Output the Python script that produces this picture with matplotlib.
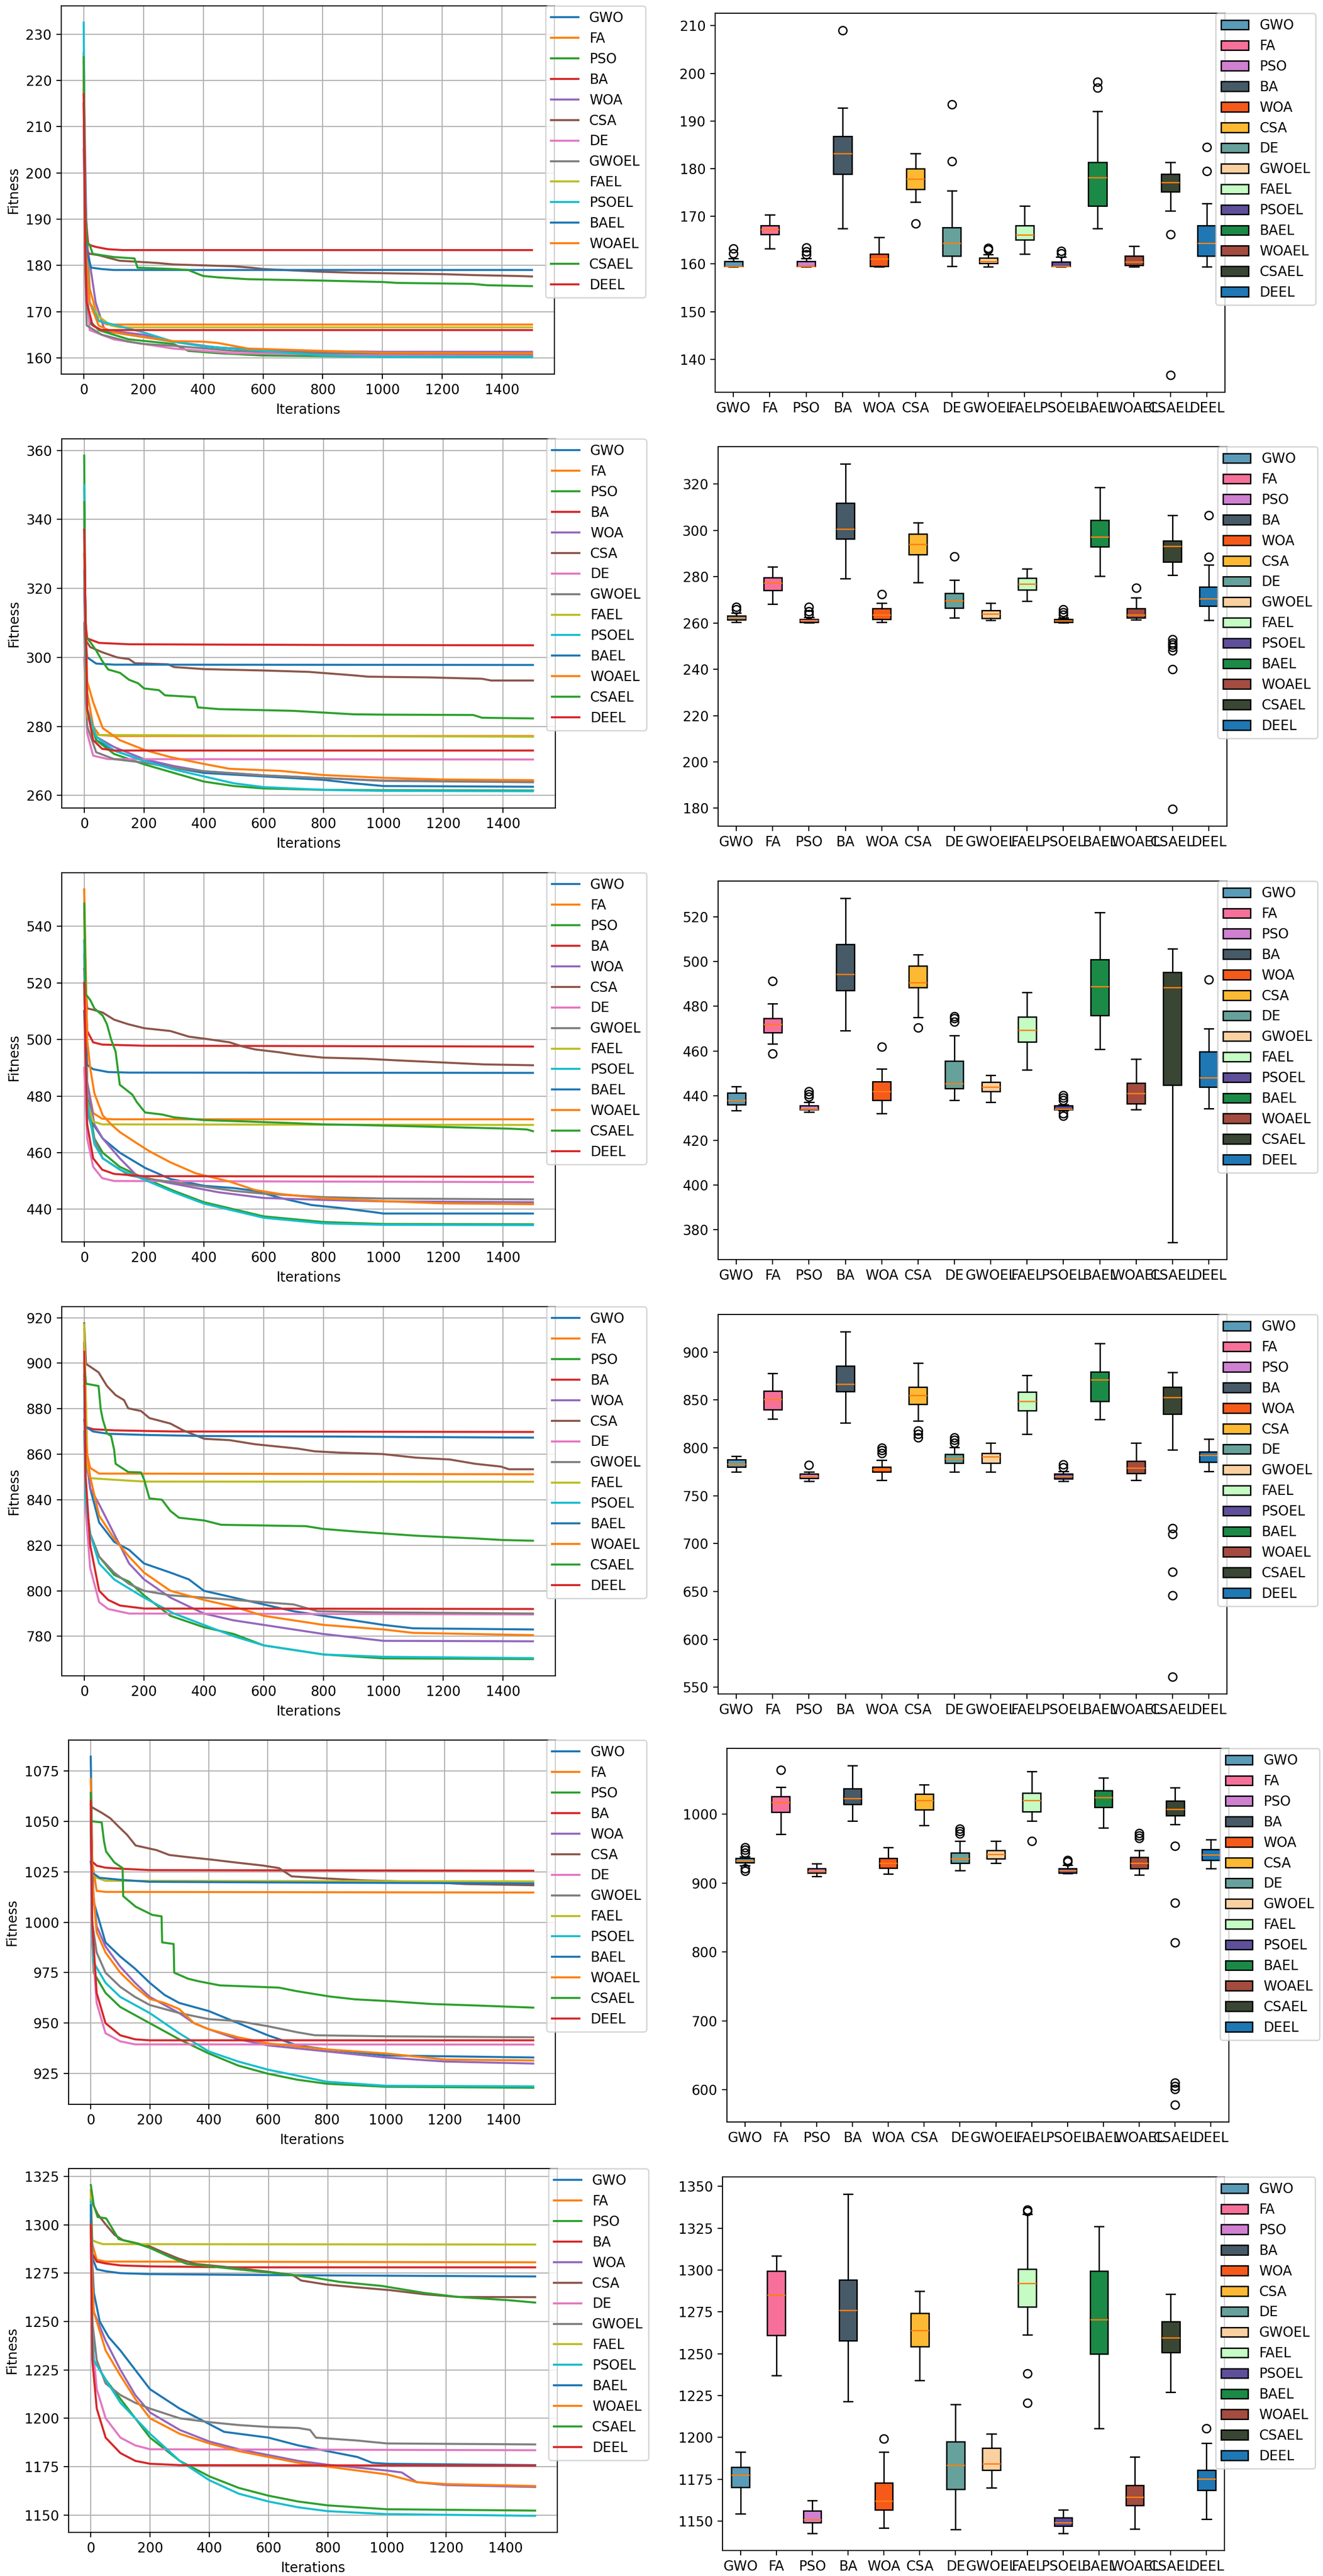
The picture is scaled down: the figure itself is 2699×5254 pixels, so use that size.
import matplotlib.pyplot as plt
from matplotlib.ticker import MultipleLocator

NAMES = ['GWO', 'FA', 'PSO', 'BA', 'WOA', 'CSA', 'DE',
         'GWOEL', 'FAEL', 'PSOEL', 'BAEL', 'WOAEL', 'CSAEL', 'DEEL']
LINE_COLORS = ['C0', 'C1', 'C2', 'C3', 'C4', 'C5', 'C6',
               'C7', 'C8', 'C9', 'C0', 'C1', 'C2', 'C3']
BOX_COLORS = ['#5a9bb8', '#f7709a', '#cf80d0', '#475a68', '#f55a1b', '#fdb933', '#66a19b',
              '#fbd0a0', '#c4fcc4', '#5f4f9b', '#1b8a47', '#a44c40', '#3a4634', '#1f77b4']

# ---------------- convergence curves (iteration, fitness) ----------------
F1_CURVES = {
    'GWO': [(0, 221), (5, 190), (10, 175), (20, 167.5), (50, 166.2), (100, 165.5), (250, 164), (400, 162.5), (600, 161.5), (900, 160.8), (1200, 160.6), (1500, 160.5)],
    'FA': [(0, 224), (5, 195), (20, 175), (50, 168), (80, 167.2), (1500, 167.2)],
    'PSO': [(0, 226), (5, 188), (10, 172), (20, 168), (50, 166), (150, 164), (300, 163), (350, 161.5), (450, 161), (600, 160.5), (900, 160.3), (1500, 160.2)],
    'BA': [(0, 218), (5, 192), (15, 184.5), (40, 184), (80, 183.5), (130, 183.3), (1500, 183.3)],
    'WOA': [(0, 222), (10, 185), (40, 172), (70, 166), (200, 165), (300, 163.5), (450, 162.2), (700, 161.5), (1000, 161.3), (1500, 161.3)],
    'CSA': [(0, 205), (10, 183), (20, 182.5), (50, 182.2), (120, 181), (200, 180.7), (250, 180.5), (300, 180.2), (400, 180), (500, 179.8), (560, 179.5), (600, 179.2), (700, 178.9), (800, 178.6), (900, 178.4), (1000, 178.3), (1200, 178.1), (1300, 177.9), (1450, 177.7), (1500, 177.6)],
    'DE': [(0, 210), (5, 180), (20, 166), (100, 164), (300, 162), (500, 161), (800, 160.7), (1500, 160.6)],
    'GWOEL': [(0, 215), (5, 180), (10, 167), (60, 165), (150, 163.5), (200, 163), (300, 162.6), (500, 161.5), (800, 161), (1500, 160.8)],
    'FAEL': [(0, 220), (5, 185), (20, 172), (50, 169), (90, 167), (120, 166.6), (1500, 166.6)],
    'PSOEL': [(0, 232.5), (5, 190), (20, 172), (50, 168), (200, 165.5), (300, 163.5), (400, 162.5), (600, 161.5), (800, 160.5), (1000, 160.2), (1500, 160.1)],
    'BAEL': [(0, 215), (5, 190), (10, 183), (25, 179.5), (60, 179.2), (100, 179), (1500, 179)],
    'WOAEL': [(0, 220), (5, 185), (20, 172), (50, 167), (100, 165.5), (200, 164.5), (300, 163.6), (400, 163.5), (450, 163.2), (550, 162), (800, 161.5), (1000, 161.1), (1500, 161.0)],
    'CSAEL': [(0, 225), (5, 192), (10, 185), (20, 184.5), (30, 182.5), (80, 182), (100, 181.8), (170, 181.5), (180, 179.5), (300, 179.2), (350, 179), (380, 178.2), (400, 177.7), (450, 177.4), (550, 177), (800, 176.7), (1000, 176.4), (1050, 176.2), (1300, 176), (1350, 175.7), (1500, 175.5)],
    'DEEL': [(0, 217), (5, 185), (10, 172), (30, 167), (60, 166), (1500, 166)],
}

F2_CURVES = {
    'GWO': [(0, 325), (5, 300), (10, 285), (40, 276), (100, 273), (200, 270), (300, 268), (400, 266.5), (600, 265.5), (800, 264.5), (900, 263.5), (1000, 262.7), (1500, 262.5)],
    'FA': [(0, 349), (5, 305), (10, 290), (30, 280), (50, 277.5), (100, 277.2), (1500, 277.2)],
    'PSO': [(0, 358.5), (5, 300), (10, 285), (40, 276), (100, 272), (200, 269), (300, 266.5), (400, 264), (500, 262.7), (600, 262), (800, 261.6), (1000, 261.5), (1500, 261.4)],
    'BA': [(0, 337), (5, 310), (10, 305.5), (50, 304.2), (150, 303.8), (800, 303.6), (1500, 303.5)],
    'WOA': [(0, 320), (5, 295), (10, 285), (40, 277), (100, 274), (200, 270.5), (300, 268.5), (400, 267), (600, 265.8), (800, 265), (1000, 264.3), (1500, 264.0)],
    'CSA': [(0, 340), (5, 305), (20, 303), (60, 301.5), (110, 300), (150, 299.5), (170, 298.3), (280, 298), (300, 297.2), (400, 296.6), (600, 296.2), (750, 295.8), (900, 294.8), (950, 294.4), (1150, 294.2), (1330, 293.8), (1360, 293.3), (1500, 293.3)],
    'DE': [(0, 300), (10, 278), (30, 271.5), (80, 270.5), (1500, 270.4)],
    'GWOEL': [(0, 310), (5, 290), (10, 280), (40, 272.5), (100, 270.5), (200, 269.5), (300, 268), (400, 267), (600, 265.8), (800, 265), (1000, 264.2), (1500, 263.8)],
    'FAEL': [(0, 335), (5, 295), (10, 283), (40, 277.5), (1500, 277.0)],
    'PSOEL': [(0, 350), (5, 300), (10, 285), (40, 277), (100, 273), (200, 270), (300, 267.5), (400, 265.5), (500, 263.5), (600, 262.4), (800, 261.6), (1000, 261.3), (1500, 261.2)],
    'BAEL': [(0, 330), (5, 305), (10, 300), (40, 298.2), (100, 297.9), (1500, 297.8)],
    'WOAEL': [(0, 330), (10, 293), (30, 287), (62, 279.5), (119, 276), (204, 273.1), (288, 271.1), (401, 269.1), (486, 267.7), (656, 267.1), (798, 265.9), (996, 265.1), (1200, 264.6), (1500, 264.4)],
    'CSAEL': [(0, 345), (5, 306), (20, 304.5), (40, 302), (60, 299), (80, 296.5), (120, 295.5), (150, 293.5), (180, 292.5), (200, 291), (250, 290.5), (270, 289), (370, 288.5), (380, 285.5), (450, 285), (700, 284.5), (800, 284), (900, 283.5), (1000, 283.4), (1300, 283.3), (1330, 282.5), (1500, 282.3)],
    'DEEL': [(0, 337), (10, 285), (30, 276), (60, 273.5), (100, 273), (1500, 273)],
}

F3_CURVES = {
    'GWO': [(0, 520), (10, 480), (30, 470), (62, 465), (119, 460), (204, 454.6), (288, 450.7), (401, 448.3), (500, 447.5), (571, 446.5), (656, 444), (760, 441.5), (854, 440.5), (967, 439), (1000, 438.5), (1500, 438.5)],
    'FA': [(0, 553), (10, 485), (30, 474), (60, 472), (100, 471.8), (1500, 471.8)],
    'PSO': [(0, 530), (10, 480), (34, 465), (62, 460), (119, 455), (200, 451), (300, 446.5), (400, 442.5), (500, 440), (600, 437.5), (700, 436.5), (800, 435.5), (1000, 434.8), (1500, 434.7)],
    'BA': [(0, 535), (10, 503), (30, 499), (60, 498.2), (200, 497.8), (1500, 497.5)],
    'WOA': [(0, 525), (10, 485), (34, 470), (62, 465), (119, 458), (175, 452), (250, 450), (350, 448), (450, 446), (600, 444), (800, 443.3), (1000, 442.8), (1500, 442.5)],
    'CSA': [(0, 525), (10, 511), (30, 510.5), (62, 509.5), (100, 507), (147, 505.4), (200, 504), (288, 503), (350, 501), (401, 500.3), (486, 499), (530, 497.5), (571, 496.5), (650, 495.5), (713, 494.5), (798, 493.6), (939, 493.2), (1050, 492.6), (1194, 491.9), (1335, 491.2), (1500, 490.9)],
    'DE': [(0, 490), (10, 465), (30, 455), (60, 451), (100, 450), (1500, 449.6)],
    'GWOEL': [(0, 510), (10, 475), (34, 465), (62, 458), (150, 452), (200, 451), (300, 449.5), (400, 448), (500, 446.5), (600, 445.5), (800, 444.3), (1000, 443.8), (1500, 443.5)],
    'FAEL': [(0, 545), (10, 478), (30, 471), (60, 470), (1500, 469.8)],
    'PSOEL': [(0, 535), (10, 478), (34, 463), (62, 458), (119, 454), (200, 450.5), (300, 446), (400, 442), (500, 439.5), (600, 437), (800, 435), (1000, 434.5), (1500, 434.4)],
    'BAEL': [(0, 510), (10, 491), (30, 489.5), (80, 488.5), (150, 488.3), (1500, 488.2)],
    'WOAEL': [(0, 553), (10, 500), (20, 490), (34, 481), (62, 473.2), (90, 470), (119, 467.3), (175, 463.4), (218, 460.5), (288, 456.6), (373, 452.7), (486, 449.8), (571, 446.8), (656, 445.4), (798, 443.9), (996, 442.9), (1194, 442.1), (1500, 441.8)],
    'CSAEL': [(0, 548), (5, 516), (20, 514), (34, 511), (62, 508.4), (76, 505.4), (90, 500), (105, 495.7), (119, 484), (161, 480.5), (175, 478), (190, 476), (204, 474.2), (260, 473.5), (300, 472.5), (401, 471.5), (550, 471), (684, 470.5), (800, 470), (910, 469.8), (1109, 469.3), (1420, 468.5), (1480, 468.2), (1500, 467.6)],
    'DEEL': [(0, 520), (10, 470), (30, 458), (60, 454), (100, 452.5), (200, 451.7), (1500, 451.5)],
}

F4_CURVES = {
    'GWO': [(0, 880), (5, 860), (20, 845), (50, 830), (100, 821.5), (150, 818), (200, 812), (288, 808), (350, 805), (400, 800), (500, 797), (600, 794), (700, 791), (800, 789), (900, 787), (1000, 785), (1100, 783.5), (1500, 783)],
    'FA': [(0, 915), (10, 860), (20, 854), (50, 851.5), (1500, 851.2)],
    'PSO': [(0, 895), (5, 840), (20, 825), (50, 815), (100, 807), (150, 804), (200, 798), (288, 789), (400, 784), (500, 781), (600, 776), (800, 772), (1000, 770.3), (1500, 770)],
    'BA': [(0, 909), (5, 872), (30, 871), (100, 870.5), (300, 870), (1500, 869.8)],
    'WOA': [(0, 890), (5, 860), (20, 845), (50, 838), (100, 825), (150, 812), (200, 805), (288, 797), (400, 790), (500, 787), (600, 785), (700, 783), (800, 781), (1000, 778), (1500, 777.8)],
    'CSA': [(0, 917.5), (6, 899.7), (20, 898.5), (48, 896), (76, 890), (105, 886), (133, 883.8), (147, 880.2), (190, 879), (218, 875.9), (288, 873.5), (331, 870.5), (401, 866.8), (486, 866.2), (571, 864.4), (713, 862.5), (770, 861.3), (854, 860.7), (996, 860.1), (1109, 858.5), (1222, 857.7), (1307, 855.8), (1392, 854.6), (1420, 853.4), (1500, 853.4)],
    'DE': [(0, 880), (5, 835), (20, 810), (50, 795), (80, 792), (150, 790), (1500, 789.6)],
    'GWOEL': [(0, 870), (5, 840), (20, 825), (50, 815), (100, 808), (150, 803), (200, 800), (288, 798), (400, 797), (500, 796), (600, 795), (700, 794), (780, 791), (1000, 790.5), (1500, 790)],
    'FAEL': [(0, 917), (10, 855), (20, 849.5), (100, 848.8), (200, 848), (1500, 847.9)],
    'PSOEL': [(0, 890), (5, 840), (20, 825), (50, 812), (100, 805), (200, 797), (300, 790), (400, 785), (500, 780), (600, 776), (800, 772), (1000, 771), (1500, 770.4)],
    'BAEL': [(0, 875), (5, 872), (30, 870), (80, 869), (200, 868.5), (400, 868), (800, 867.8), (1500, 867.3)],
    'WOAEL': [(0, 900), (5, 865), (20, 850), (50, 833), (100, 823), (150, 815), (200, 808), (288, 800), (400, 796), (500, 793), (600, 789), (800, 785), (900, 784), (1000, 783), (1100, 781.5), (1500, 780.5)],
    'CSAEL': [(0, 900), (6, 891), (48, 890), (55, 880), (62, 875.3), (76, 869.2), (90, 868), (100, 862), (105, 855.8), (147, 852.2), (190, 852), (200, 849), (218, 840.6), (260, 840), (288, 835.1), (317, 832.1), (401, 830.9), (458, 829), (741, 828.4), (798, 827.2), (910, 826), (1109, 824.2), (1307, 823), (1400, 822.3), (1500, 822)],
    'DEEL': [(0, 905), (5, 850), (20, 820), (50, 800), (80, 796), (120, 793.5), (200, 792.2), (1500, 792)],
}

F5_CURVES = {
    'GWO': [(0, 1082), (5, 1030), (10, 1010), (50, 990), (100, 983), (150, 977), (200, 970), (250, 964), (300, 960), (400, 956), (500, 950), (550, 947), (600, 944), (700, 939), (800, 937), (1000, 934), (1500, 933)],
    'FA': [(0, 1071), (5, 1030), (20, 1015.5), (50, 1015), (1500, 1014.7)],
    'PSO': [(0, 1050), (5, 990), (10, 975), (50, 965), (100, 958), (200, 950), (300, 942), (400, 935), (500, 929), (600, 925), (700, 922), (800, 920), (1000, 918.5), (1500, 918)],
    'BA': [(0, 1064), (5, 1030), (20, 1028), (50, 1027), (100, 1026.5), (200, 1025.8), (1500, 1025.5)],
    'WOA': [(0, 1060), (5, 1020), (20, 998), (50, 988), (100, 978), (150, 970), (200, 963), (250, 959), (300, 955), (350, 950), (400, 947), (500, 942), (600, 939), (800, 936), (1000, 933), (1200, 931), (1500, 930)],
    'CSA': [(0, 1058), (3, 1057), (37, 1054.2), (66, 1051.5), (94, 1047.4), (123, 1043.3), (152, 1038), (223, 1035.7), (266, 1033.3), (324, 1032.3), (409, 1031), (495, 1029.5), (581, 1028.1), (638, 1026.8), (681, 1022.7), (781, 1021.8), (925, 1020.7), (1125, 1020), (1268, 1018.9), (1500, 1018.3)],
    'DE': [(0, 1040), (5, 990), (20, 960), (50, 945), (100, 941), (150, 939.5), (1500, 939.4)],
    'GWOEL': [(0, 1050), (5, 1000), (20, 985), (50, 975), (100, 968), (150, 963), (200, 959), (300, 955), (400, 952), (500, 951), (600, 948.5), (700, 945.5), (760, 944), (1000, 943.5), (1500, 943)],
    'FAEL': [(0, 1060), (5, 1025), (20, 1022), (50, 1020.5), (1500, 1020.2)],
    'PSOEL': [(0, 1055), (5, 995), (10, 980), (50, 970), (100, 963), (200, 955), (300, 945), (400, 936), (500, 931), (600, 927), (700, 924), (800, 921), (1000, 919), (1500, 918.7)],
    'BAEL': [(0, 1030), (5, 1024.5), (30, 1022), (100, 1021), (200, 1020), (600, 1019.7), (1500, 1019.2)],
    'WOAEL': [(0, 1060), (5, 1020), (20, 995), (50, 985), (100, 975), (150, 968), (200, 962), (250, 960), (300, 957), (350, 950), (400, 947), (500, 943), (600, 940), (800, 937), (1000, 935), (1200, 932), (1500, 931.5)],
    'CSAEL': [(0, 1064), (3, 1050), (37, 1049.4), (45, 1040), (52, 1035), (80, 1029.6), (108, 1026.8), (110, 1012.9), (152, 1007.7), (209, 1003.6), (240, 1002.9), (242, 990), (281, 989.2), (283, 975), (330, 972), (367, 970.7), (438, 968.7), (638, 967.6), (696, 965.9), (810, 963.2), (896, 961.8), (1011, 960.9), (1154, 959.5), (1297, 958.8), (1500, 957.7)],
    'DEEL': [(0, 1060), (5, 1000), (20, 965), (50, 950), (100, 944), (150, 942), (200, 941.5), (1500, 941.5)],
}

F6_CURVES = {
    'GWO': [(0, 1305), (5, 1280), (10, 1265), (30, 1250), (60, 1242), (100, 1235), (150, 1225), (200, 1215), (250, 1210), (300, 1205), (400, 1197), (450, 1193), (500, 1192), (600, 1190), (700, 1186), (800, 1183), (900, 1180), (950, 1177), (1000, 1176.5), (1500, 1175.8)],
    'FA': [(0, 1318), (5, 1290), (20, 1282), (50, 1281), (1500, 1280.6)],
    'PSO': [(0, 1310), (5, 1250), (10, 1230), (50, 1220), (100, 1210), (150, 1200), (200, 1190), (300, 1178), (400, 1170), (500, 1164), (600, 1160), (700, 1157), (800, 1155), (1000, 1153), (1500, 1152.3)],
    'BA': [(0, 1302), (5, 1285), (20, 1281), (50, 1280), (100, 1279), (200, 1278.5), (500, 1278), (1500, 1278)],
    'WOA': [(0, 1300), (5, 1270), (10, 1255), (50, 1240), (100, 1225), (150, 1212), (200, 1203), (300, 1194), (400, 1188), (500, 1184), (600, 1181), (700, 1178), (800, 1176), (1000, 1173), (1050, 1172), (1100, 1167), (1200, 1165.5), (1500, 1164.5)],
    'CSA': [(0, 1313), (23, 1305.5), (52, 1299.8), (80, 1294.8), (109, 1292), (195, 1289.1), (238, 1286.2), (295, 1282.6), (352, 1279.8), (495, 1277.6), (610, 1275.5), (681, 1274.1), (710, 1271.2), (796, 1269.1), (896, 1267.7), (1011, 1266.2), (1125, 1264.1), (1240, 1262.7), (1500, 1262.6)],
    'DE': [(0, 1290), (5, 1240), (20, 1215), (50, 1200), (100, 1190), (150, 1186), (200, 1184), (1500, 1183.5)],
    'GWOEL': [(0, 1300), (5, 1250), (20, 1230), (50, 1218), (100, 1212), (150, 1208), (200, 1205), (300, 1200), (400, 1198), (500, 1196.5), (600, 1195.5), (700, 1195), (740, 1194), (760, 1190), (900, 1188.5), (1000, 1187), (1500, 1186.5)],
    'FAEL': [(0, 1315), (5, 1292), (20, 1291), (40, 1290), (1500, 1289.8)],
    'PSOEL': [(0, 1312), (5, 1250), (10, 1230), (50, 1220), (100, 1208), (200, 1192), (300, 1178), (400, 1168), (500, 1161), (600, 1157), (700, 1154), (800, 1152), (1000, 1150.5), (1500, 1149.6)],
    'BAEL': [(0, 1310), (5, 1283), (20, 1277), (50, 1276), (100, 1275), (200, 1274.5), (600, 1274), (1500, 1273.3)],
    'WOAEL': [(0, 1300), (5, 1270), (10, 1255), (50, 1235), (100, 1222), (150, 1210), (200, 1200), (300, 1192), (400, 1187), (500, 1183), (600, 1180), (700, 1177), (800, 1175), (900, 1173), (1000, 1171), (1100, 1167), (1200, 1166), (1500, 1165)],
    'CSAEL': [(0, 1320.5), (10, 1310), (23, 1304), (52, 1303.3), (94, 1292.6), (152, 1290.5), (200, 1288), (266, 1283.4), (324, 1279.8), (495, 1277), (638, 1274.8), (753, 1272.7), (839, 1270.5), (982, 1268.4), (1125, 1264.8), (1240, 1262.7), (1412, 1261), (1500, 1259.8)],
    'DEEL': [(0, 1300), (5, 1230), (20, 1205), (50, 1190), (100, 1182), (150, 1178), (200, 1176.5), (300, 1175.8), (1500, 1175.5)],
}

# ---------------- box plot statistics (order = NAMES) ----------------
F1_LO = [159.4, 163.2, 159.4, 167.4, 159.4, 173.0, 159.5, 159.4, 162.1, 159.4, 167.4, 159.4, 171.2, 159.4]
F1_Q1 = [159.5, 166.2, 159.5, 178.9, 159.5, 175.7, 161.7, 160.1, 165.1, 159.5, 172.2, 159.7, 175.2, 161.7]
F1_MED = [159.5, 167.2, 159.5, 183.2, 161.1, 177.8, 164.4, 160.6, 166.1, 159.5, 178.2, 160.5, 177.1, 164.4]
F1_Q3 = [160.6, 168.1, 160.6, 186.8, 162.1, 180.0, 167.7, 161.3, 168.1, 160.5, 181.3, 161.7, 178.9, 168.1]
F1_HI = [161.2, 170.3, 161.2, 192.8, 165.6, 183.2, 175.4, 162.0, 172.2, 161.5, 192.0, 163.7, 181.3, 172.7]
F1_FLIERS = [[162.2, 163.2], [], [162.0, 162.6, 163.4], [209.0], [], [168.5], [181.5, 193.5], [163.0, 163.3], [],
             [162.2, 162.7], [197.0, 198.2], [], [166.2, 136.7], [179.5, 184.5]]

F2_LO = [260.3, 268.2, 260.2, 279.1, 260.3, 277.5, 262.2, 261.1, 269.4, 260.2, 280.2, 261.3, 280.6, 261.1]
F2_Q1 = [261.5, 274.0, 260.4, 296.3, 261.7, 289.6, 266.5, 262.0, 274.4, 260.3, 292.9, 262.3, 286.4, 267.3]
F2_MED = [262.3, 277.2, 261.2, 300.6, 263.5, 294.1, 269.7, 264.0, 276.8, 261.0, 297.1, 263.5, 293.2, 270.5]
F2_Q3 = [263.1, 279.6, 261.6, 311.9, 266.2, 298.5, 272.8, 265.5, 279.3, 261.6, 304.3, 266.2, 295.4, 275.5]
F2_HI = [264.3, 284.3, 262.5, 328.7, 268.5, 303.4, 278.6, 268.5, 283.5, 262.3, 318.6, 271.0, 306.4, 285.2]
F2_FLIERS = [[265.8, 267.0], [], [263.8, 265.0, 266.8], [], [272.4], [], [288.8], [], [], [263.5, 264.5, 265.8], [],
             [275.2], [253.0, 251.5, 250.5, 249.5, 248.0, 240.0, 179.7], [288.5, 306.4]]

F3_LO = [433.4, 463.3, 432.7, 469.2, 432.1, 475.0, 438.0, 437.1, 451.5, 433.4, 460.8, 433.7, 374.4, 434.3]
F3_Q1 = [436.1, 468.2, 433.7, 487.1, 438.0, 488.3, 443.2, 442.0, 464.1, 433.9, 476.0, 436.5, 444.8, 443.8]
F3_MED = [438.0, 471.9, 434.0, 494.3, 442.0, 490.6, 445.4, 443.8, 469.4, 434.0, 488.8, 441.0, 488.3, 448.1]
F3_Q3 = [441.3, 474.7, 435.5, 507.7, 446.4, 498.0, 455.5, 446.0, 475.2, 435.5, 500.8, 445.7, 495.3, 459.6]
F3_HI = [444.1, 481.1, 437.1, 528.3, 451.9, 503.2, 467.0, 449.1, 486.2, 436.1, 521.9, 456.5, 505.8, 470.0]
F3_FLIERS = [[], [458.9, 491.3], [439.5, 440.5, 442.0], [], [461.8], [470.4], [473.0, 474.5, 475.5], [], [],
             [431.0, 432.0, 438.0, 439.0, 440.2], [], [], [], [492.0]]

F4_LO = [775.0, 830.5, 765.0, 826.1, 766.1, 828.4, 775.1, 774.8, 814.6, 765.0, 829.6, 766.1, 798.2, 775.6]
F4_Q1 = [780.0, 840.0, 768.4, 859.0, 774.8, 845.5, 784.0, 784.3, 838.8, 767.9, 848.6, 773.3, 835.4, 785.2]
F4_MED = [783.0, 850.7, 770.5, 866.5, 777.7, 855.0, 788.6, 790.6, 848.6, 770.5, 871.1, 779.1, 853.0, 792.1]
F4_Q3 = [787.5, 859.6, 772.8, 885.3, 780.0, 863.4, 793.2, 794.4, 858.5, 772.8, 879.5, 786.3, 863.6, 795.8]
F4_HI = [791.5, 877.8, 774.8, 921.3, 787.2, 888.5, 800.8, 805.1, 875.8, 775.4, 908.9, 805.1, 878.9, 809.4]
F4_FLIERS = [[], [], [782.0], [], [794.5, 797.5, 800.0], [811.0, 814.5, 818.0], [805.0, 808.0, 811.0], [], [],
             [779.5, 782.5], [], [], [710.0, 716.0, 670.5, 646.0, 561.0], []]

F5_LO = [925.2, 970.8, 910.0, 990.0, 913.2, 984.0, 918.0, 929.2, 990.0, 914.0, 980.0, 912.0, 985.2, 920.8]
F5_Q1 = [930.0, 1002.8, 914.8, 1014.0, 922.0, 1006.8, 929.2, 935.2, 1004.0, 914.8, 1010.0, 921.2, 998.0, 933.2]
F5_MED = [932.8, 1017.2, 916.8, 1023.2, 929.2, 1020.0, 935.2, 942.0, 1020.0, 918.0, 1024.0, 929.2, 1007.2, 941.2]
F5_Q3 = [936.0, 1026.0, 920.8, 1036.8, 936.0, 1029.2, 944.0, 947.2, 1030.8, 921.2, 1034.0, 937.2, 1019.2, 949.2]
F5_HI = [938.0, 1039.2, 928.0, 1070.8, 952.0, 1042.8, 961.2, 961.2, 1062.0, 926.0, 1052.8, 947.2, 1038.8, 963.2]
F5_FLIERS = [[917.5, 921.0, 944.0, 948.0, 952.0], [1064.0], [], [], [], [], [972.0, 975.5, 979.0], [], [960.8],
             [931.0, 933.0], [], [965.5, 968.5, 972.5], [954.0, 871.0, 814.0, 610.0, 605.0, 601.0, 578.0], []]

F6_LO = [1154.5, 1237.1, 1142.6, 1221.5, 1145.9, 1234.2, 1145.1, 1169.8, 1261.4, 1142.6, 1205.3, 1145.4, 1227.1, 1151.3]
F6_Q1 = [1170.1, 1260.9, 1149.2, 1257.8, 1156.9, 1254.3, 1169.0, 1180.5, 1277.9, 1147.0, 1249.8, 1159.4, 1250.7, 1168.5]
F6_MED = [1177.6, 1285.0, 1150.8, 1275.9, 1161.9, 1263.9, 1183.5, 1184.2, 1292.2, 1149.2, 1270.5, 1164.4, 1259.7, 1175.1]
F6_Q3 = [1182.2, 1299.3, 1156.3, 1294.1, 1172.8, 1274.1, 1197.4, 1193.7, 1300.7, 1152.1, 1299.3, 1171.5, 1269.3, 1180.5]
F6_HI = [1191.4, 1308.6, 1162.4, 1345.5, 1191.4, 1287.5, 1219.8, 1202.3, 1333.5, 1156.9, 1326.1, 1188.3, 1285.6, 1196.7]
F6_FLIERS = [[], [], [], [], [1199.2], [], [], [], [1335.0, 1336.0, 1238.3, 1220.6], [], [], [], [], [1205.3]]

CURVES = [F1_CURVES, F2_CURVES, F3_CURVES, F4_CURVES, F5_CURVES, F6_CURVES]
BOXES = [(F1_LO, F1_Q1, F1_MED, F1_Q3, F1_HI, F1_FLIERS),
         (F2_LO, F2_Q1, F2_MED, F2_Q3, F2_HI, F2_FLIERS),
         (F3_LO, F3_Q1, F3_MED, F3_Q3, F3_HI, F3_FLIERS),
         (F4_LO, F4_Q1, F4_MED, F4_Q3, F4_HI, F4_FLIERS),
         (F5_LO, F5_Q1, F5_MED, F5_Q3, F5_HI, F5_FLIERS),
         (F6_LO, F6_Q1, F6_MED, F6_Q3, F6_HI, F6_FLIERS)]

# axes boxes in pixels (x0, y0 from top, x1, y1)
W, H = 2699, 5254
LEFT_BOX = [(125, 12, 1131, 763), (126, 895, 1133, 1648), (126, 1780, 1133, 2533),
            (126, 2665, 1133, 3418), (140, 3549, 1133, 4292), (140, 4423, 1137, 5165)]
RIGHT_BOX = [(1459, 27, 2499, 800), (1465, 911, 2503, 1685), (1465, 1797, 2503, 2569),
             (1465, 2681, 2503, 3455), (1483, 3566, 2507, 4328), (1474, 4440, 2498, 5202)]
LEFT_STEP = [10, 20, 20, 20, 25, 25]
RIGHT_STEP = [10, 20, 20, 50, 100, 25]


def addAxes(fig, box):
    x0, y0, x1, y1 = box
    return fig.add_axes([x0 / W, 1 - y1 / H, (x1 - x0) / W, (y1 - y0) / H])


def curvePlot(ax, curves, step):
    for name, color in zip(NAMES, LINE_COLORS):
        it, val = zip(*curves[name])
        ax.plot(it, val, color=color, label=name)
    ax.grid(True)
    ax.yaxis.set_major_locator(MultipleLocator(step))
    ax.set_xlabel('Iterations')
    ax.set_ylabel('Fitness')
    ax.legend(loc='upper left', bbox_to_anchor=(0.982, 1), borderaxespad=0)


def boxPlot(ax, lo, q1, med, q3, hi, fliers, step):
    stats = []
    for i in range(len(NAMES)):
        stats.append(dict(label=NAMES[i], whislo=lo[i], q1=q1[i], med=med[i],
                          q3=q3[i], whishi=hi[i], fliers=fliers[i]))
    bp = ax.bxp(stats, patch_artist=True)
    for patch, color in zip(bp['boxes'], BOX_COLORS):
        patch.set_facecolor(color)
    ax.yaxis.set_major_locator(MultipleLocator(step))
    ax.legend(bp['boxes'], NAMES, loc='upper left', bbox_to_anchor=(0.982, 1), borderaxespad=0)


def main():
    fig = plt.figure(figsize=(W / 200, H / 200))
    for i in range(6):
        curvePlot(addAxes(fig, LEFT_BOX[i]), CURVES[i], LEFT_STEP[i])
        boxPlot(addAxes(fig, RIGHT_BOX[i]), *BOXES[i], RIGHT_STEP[i])
    fig.savefig('out.png', dpi=200)


if __name__ == '__main__':
    main()
